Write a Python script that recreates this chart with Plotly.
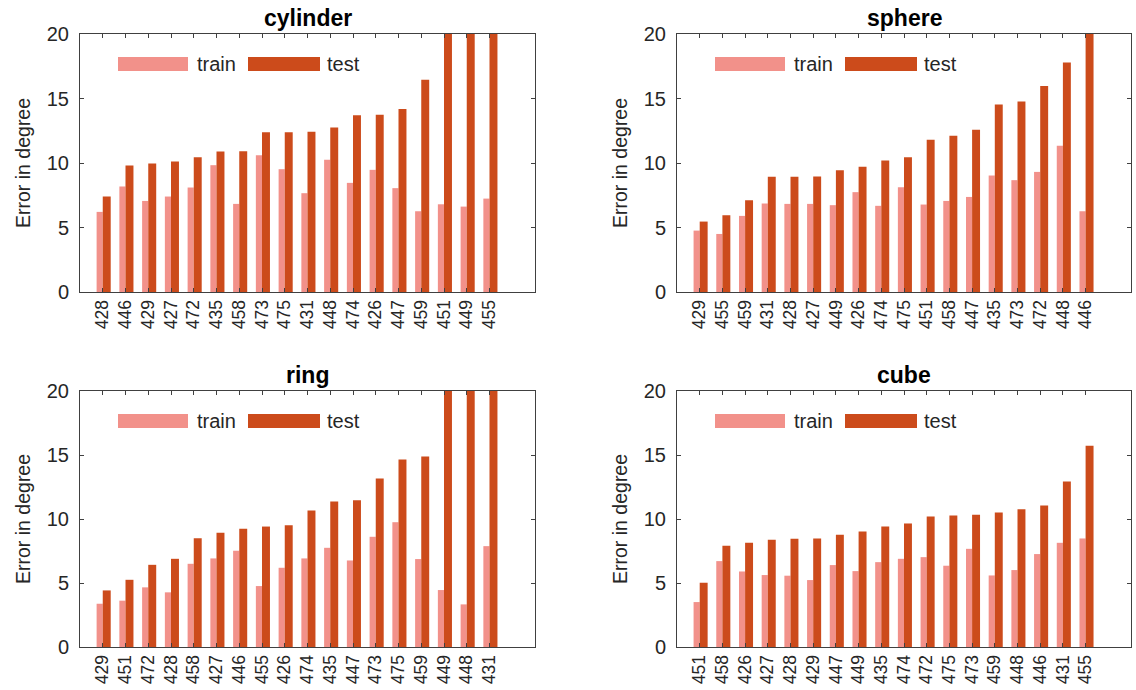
import plotly.graph_objects as go

W, H = 1136, 690

# ---------------- data ----------------
cyl_labels = ["428", "446", "429", "427", "472", "435", "458", "473", "475",
              "431", "448", "474", "426", "447", "459", "451", "449", "455"]
cyl_train = [6.21, 8.18, 7.06, 7.40, 8.10, 9.83, 6.83, 10.61, 9.52,
             7.66, 10.25, 8.46, 9.47, 8.05, 6.26, 6.80, 6.62, 7.24]
cyl_test = [7.40, 9.81, 9.96, 10.12, 10.45, 10.89, 10.92, 12.39, 12.39,
            12.42, 12.76, 13.71, 13.74, 14.18, 16.46, 21.5, 23.8, 26.4]

sph_labels = ["429", "455", "459", "431", "428", "427", "449", "426", "474",
              "475", "451", "458", "447", "435", "473", "472", "448", "446"]
sph_train = [4.76, 4.50, 5.90, 6.86, 6.83, 6.83, 6.73, 7.74, 6.68,
             8.12, 6.78, 7.06, 7.37, 9.03, 8.67, 9.31, 11.33, 6.26]
sph_test = [5.46, 5.95, 7.12, 8.93, 8.93, 8.95, 9.44, 9.70, 10.19,
            10.45, 11.80, 12.11, 12.57, 14.54, 14.77, 15.96, 17.80, 22.0]

ring_labels = ["429", "451", "472", "428", "458", "427", "446", "455", "426",
               "474", "435", "447", "473", "475", "459", "449", "448", "431"]
ring_train = [3.38, 3.62, 4.66, 4.27, 6.50, 6.92, 7.52, 4.76, 6.19,
              6.92, 7.75, 6.76, 8.61, 9.75, 6.87, 4.45, 3.33, 7.88]
ring_test = [4.42, 5.25, 6.42, 6.89, 8.50, 8.92, 9.23, 9.41, 9.52,
             10.66, 11.37, 11.47, 13.16, 14.64, 14.88, 21.0, 23.5, 26.0]

cube_labels = ["451", "458", "426", "427", "428", "429", "447", "449", "435",
               "474", "472", "475", "473", "459", "448", "446", "431", "455"]
cube_train = [3.51, 6.71, 5.90, 5.62, 5.57, 5.23, 6.40, 5.93, 6.63,
              6.89, 7.02, 6.35, 7.67, 5.59, 6.01, 7.26, 8.14, 8.48]
cube_test = [5.02, 7.91, 8.14, 8.37, 8.45, 8.48, 8.76, 9.02, 9.41,
             9.65, 10.20, 10.27, 10.33, 10.51, 10.77, 11.05, 12.93, 15.73]

titles = ["cylinder", "sphere", "ring", "cube"]
y_ticks = [0, 5, 10, 15, 20]
series_names = ["train", "test"]

TRAIN_C = "#F2918A"
TEST_C = "#CC4B1B"
AX_C = "#404040"
TXT_C = "#262626"
FONT = "Liberation Sans, Arial, sans-serif"

panels = [
    (cyl_labels, cyl_train, cyl_test),
    (sph_labels, sph_train, sph_test),
    (ring_labels, ring_train, ring_test),
    (cube_labels, cube_train, cube_test),
]

# pixel boxes of each axes: (left, right, top, bottom)
boxes = [(80, 535, 34, 292), (677, 1131, 34, 292),
         (80, 535, 391, 647), (677, 1131, 391, 647)]


def px(x):
    return x / W


def py(y):
    return 1 - y / H


fig = go.Figure()
layout = dict(
    width=W, height=H,
    margin=dict(l=0, r=0, t=0, b=0, autoexpand=False),
    paper_bgcolor="white", plot_bgcolor="white",
    barmode="overlay", showlegend=False,
    font=dict(family=FONT, color=TXT_C),
)
annotations = []
shapes = []

for i, ((labels, train, test), title, box) in enumerate(zip(panels, titles, boxes)):
    n = i + 1
    xa = "x" if n == 1 else f"x{n}"
    ya = "y" if n == 1 else f"y{n}"
    xpos = list(range(1, len(labels) + 1))
    fig.add_trace(go.Bar(x=xpos, y=train, name=series_names[0], width=0.27, offset=-0.27,
                         marker=dict(color=TRAIN_C, line=dict(width=0)),
                         xaxis=xa, yaxis=ya))
    fig.add_trace(go.Bar(x=xpos, y=test, name=series_names[1], width=0.35, offset=0.0,
                         marker=dict(color=TEST_C, line=dict(width=0)),
                         xaxis=xa, yaxis=ya))
    l, r, t, b = box
    xkey = "xaxis" if n == 1 else f"xaxis{n}"
    ykey = "yaxis" if n == 1 else f"yaxis{n}"
    layout[xkey] = dict(
        domain=[px(l), px(r)], anchor=ya, range=[0, 20], automargin=False,
        tickmode="array", tickvals=xpos, ticktext=labels, tickangle=-90,
        ticks="inside", ticklen=4, tickcolor=AX_C, showline=True, linecolor=AX_C,
        linewidth=1, mirror="ticks", showgrid=False, zeroline=False,
        tickfont=dict(size=17.5, color=TXT_C, family=FONT), fixedrange=True,
    )
    layout[ykey] = dict(
        domain=[py(b), py(t)], anchor=xa, range=[0, 20], automargin=False,
        tickmode="array", tickvals=y_ticks, ticktext=[str(v) for v in y_ticks],
        ticks="inside", ticklen=4, tickcolor=AX_C, showline=True, linecolor=AX_C,
        linewidth=1, mirror="ticks", showgrid=False, zeroline=False,
        tickfont=dict(size=20, color=TXT_C, family=FONT), ticklabelstandoff=6,
        fixedrange=True,
    )
    # title
    annotations.append(dict(text=f"<b>{title}</b>", x=px((l + r) / 2), y=py(t),
                            xref="paper", yref="paper", xanchor="center", yanchor="bottom",
                            yshift=1, showarrow=False,
                            font=dict(size=23, color="#000000", family=FONT)))
    # y label
    annotations.append(dict(text="Error in degree", x=px(l - 57), y=py((t + b) / 2),
                            xref="paper", yref="paper", xanchor="center", yanchor="middle",
                            textangle=-90, showarrow=False,
                            font=dict(size=19.5, color=TXT_C, family=FONT)))
    # legend
    for (x0, x1, tx, name, col) in [(38, 108, 115, series_names[0], TRAIN_C),
                                    (168, 240, 245, series_names[1], TEST_C)]:
        shapes.append(dict(type="rect", xref="paper", yref="paper",
                           x0=px(l + x0), x1=px(l + x1), y0=py(t + 37), y1=py(t + 23),
                           fillcolor=col, line=dict(width=0)))
        annotations.append(dict(text=name, x=px(l + tx), y=py(t + 30), xref="paper",
                                yref="paper", xanchor="left", yanchor="middle",
                                showarrow=False,
                                font=dict(size=20, color=TXT_C, family=FONT)))

layout["annotations"] = annotations
layout["shapes"] = shapes
fig.update_layout(**layout)
fig.write_html("out.html")
